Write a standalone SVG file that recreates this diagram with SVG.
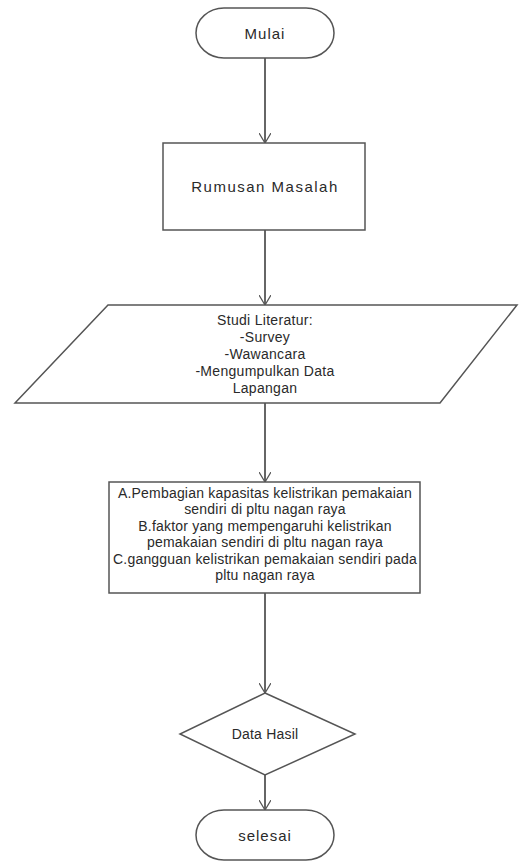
<svg xmlns="http://www.w3.org/2000/svg" width="527" height="867" viewBox="0 0 527 867">
<defs>
<marker id="arr" markerWidth="16" markerHeight="12" refX="10" refY="6" orient="auto" markerUnits="userSpaceOnUse">
<path d="M0,0 L10,6 L0,12" fill="none" stroke="#555" stroke-width="1.2"/>
</marker>
<style>
.s{fill:#fff;stroke:#555;stroke-width:1.5}
.t{font-family:"Liberation Sans",Arial,sans-serif;font-size:14px;fill:#2a2a2a;text-anchor:middle;letter-spacing:0.2px}
.big{font-size:15px;letter-spacing:1px}
.c{stroke:#666;stroke-width:2;fill:none}
</style>
</defs>
<rect width="527" height="867" fill="#fff"/>
<g id="connectors">
<line class="c" x1="265" y1="58" x2="265" y2="143" marker-end="url(#arr)"/>
<line class="c" x1="265" y1="230" x2="265" y2="305" marker-end="url(#arr)"/>
<line class="c" x1="265" y1="403" x2="265" y2="482" marker-end="url(#arr)"/>
<line class="c" x1="265" y1="593" x2="265" y2="693" marker-end="url(#arr)"/>
<line class="c" x1="265" y1="775" x2="265" y2="810" marker-end="url(#arr)"/>
</g>
<g id="mulai">
<rect class="s" x="196" y="8" width="138" height="50" rx="28" ry="25"/>
<text class="t big" x="265" y="39">Mulai</text>
</g>
<g id="rumusan">
<rect class="s" x="163" y="143" width="202" height="87"/>
<text class="t big" x="265" y="192" style="letter-spacing:1.5px">Rumusan Masalah</text>
</g>
<g id="studi">
<polygon class="s" points="108,305 517,305 440,403 15,403"/>
<text class="t" x="265" y="325" style="letter-spacing:0.3px">Studi Literatur:</text>
<text class="t" x="265" y="342" style="letter-spacing:0.3px">-Survey</text>
<text class="t" x="265" y="359" style="letter-spacing:0.3px">-Wawancara</text>
<text class="t" x="265" y="376" style="letter-spacing:0.3px">-Mengumpulkan Data</text>
<text class="t" x="265" y="393" style="letter-spacing:0.3px">Lapangan</text>
</g>
<g id="proses">
<rect class="s" x="109" y="482" width="311" height="111"/>
<text class="t" x="265" y="498">A.Pembagian kapasitas kelistrikan pemakaian</text>
<text class="t" x="265" y="514">sendiri di pltu nagan raya</text>
<text class="t" x="265" y="531">B.faktor yang mempengaruhi kelistrikan</text>
<text class="t" x="265" y="547">pemakaian sendiri di pltu nagan raya</text>
<text class="t" x="265" y="564">C.gangguan kelistrikan pemakaian sendiri pada</text>
<text class="t" x="265" y="580">pltu nagan raya</text>
</g>
<g id="data-hasil">
<polygon class="s" points="265,693 355,734 265,775 180,734"/>
<text class="t" x="265" y="739">Data Hasil</text>
</g>
<g id="selesai">
<rect class="s" x="196" y="810" width="138" height="50" rx="28" ry="25"/>
<text class="t big" x="265" y="841">selesai</text>
</g>
</svg>
